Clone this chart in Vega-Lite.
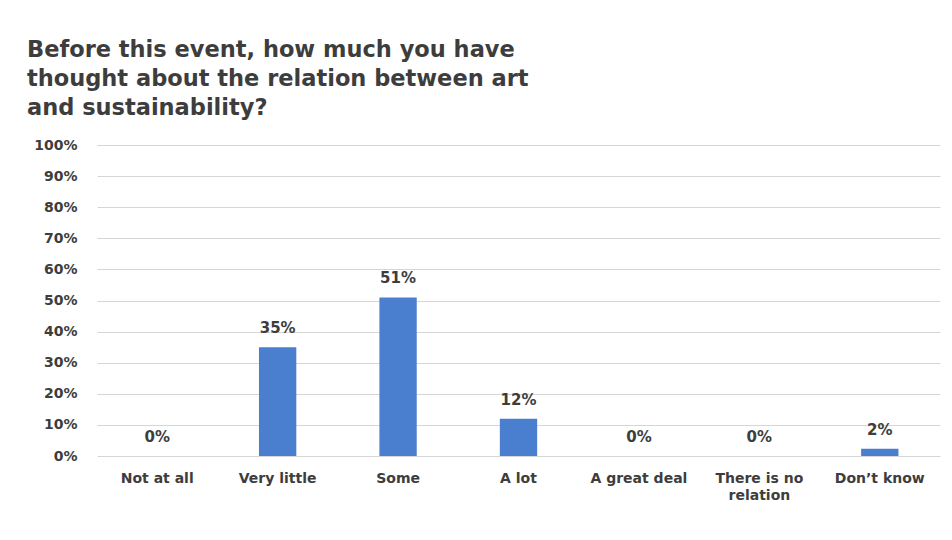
{
  "$schema": "https://vega.github.io/schema/vega-lite/v6.json",
  "width": 843,
  "height": 311,
  "autosize": {"type": "none"},
  "padding": {"left": 97, "top": 145, "right": 12, "bottom": 84},
  "background": "white",
  "title": {
    "text": ["Before this event, how much you have", "thought about the relation between art", "and sustainability?"],
    "anchor": "start",
    "frame": "group",
    "dx": -70,
    "offset": 19,
    "font": "DejaVu Sans",
    "fontSize": 22.5,
    "fontWeight": "bold",
    "color": "#3d3d3d",
    "lineHeight": 29
  },
  "data": {
    "values": [
      {"answer": "Not at all", "share": 0},
      {"answer": "Very little", "share": 0.35},
      {"answer": "Some", "share": 0.51},
      {"answer": "A lot", "share": 0.12},
      {"answer": "A great deal", "share": 0},
      {"answer": "There is no relation", "share": 0},
      {"answer": "Don’t know", "share": 0.023}
    ]
  },
  "encoding": {
    "x": {
      "field": "answer",
      "type": "nominal",
      "sort": null,
      "scale": {"paddingInner": 0.69, "paddingOuter": 0.345},
      "axis": {
        "title": null,
        "labelAngle": 0,
        "ticks": false,
        "domain": false,
        "labelPadding": 15,
        "labelFont": "DejaVu Sans",
        "labelFontSize": 14,
        "labelFontWeight": "bold",
        "labelColor": "#3d3d3d",
        "labelLimit": 200,
        "labelLineHeight": 17,
        "labelExpr": "datum.label == 'There is no relation' ? ['There is no', 'relation'] : datum.label"
      }
    },
    "y": {
      "field": "share",
      "type": "quantitative",
      "scale": {"domain": [0, 1]},
      "axis": {
        "title": null,
        "format": ".0%",
        "values": [0, 0.1, 0.2, 0.3, 0.4, 0.5, 0.6, 0.7, 0.8, 0.9, 1],
        "ticks": false,
        "domain": false,
        "labelPadding": 20,
        "labelFont": "DejaVu Sans",
        "labelFontSize": 14,
        "labelFontWeight": "bold",
        "labelColor": "#3d3d3d",
        "gridColor": "#d6d6d6",
        "gridWidth": 1.2
      }
    }
  },
  "layer": [
    {"mark": {"type": "bar", "color": "#4a7fd0"}},
    {
      "mark": {
        "type": "text",
        "baseline": "middle",
        "dy": -19,
        "font": "DejaVu Sans",
        "fontSize": 15,
        "fontWeight": "bold",
        "color": "#3d3d3d"
      },
      "encoding": {"text": {"field": "share", "type": "quantitative", "format": ".0%"}}
    }
  ],
  "config": {"view": {"stroke": null}}
}
